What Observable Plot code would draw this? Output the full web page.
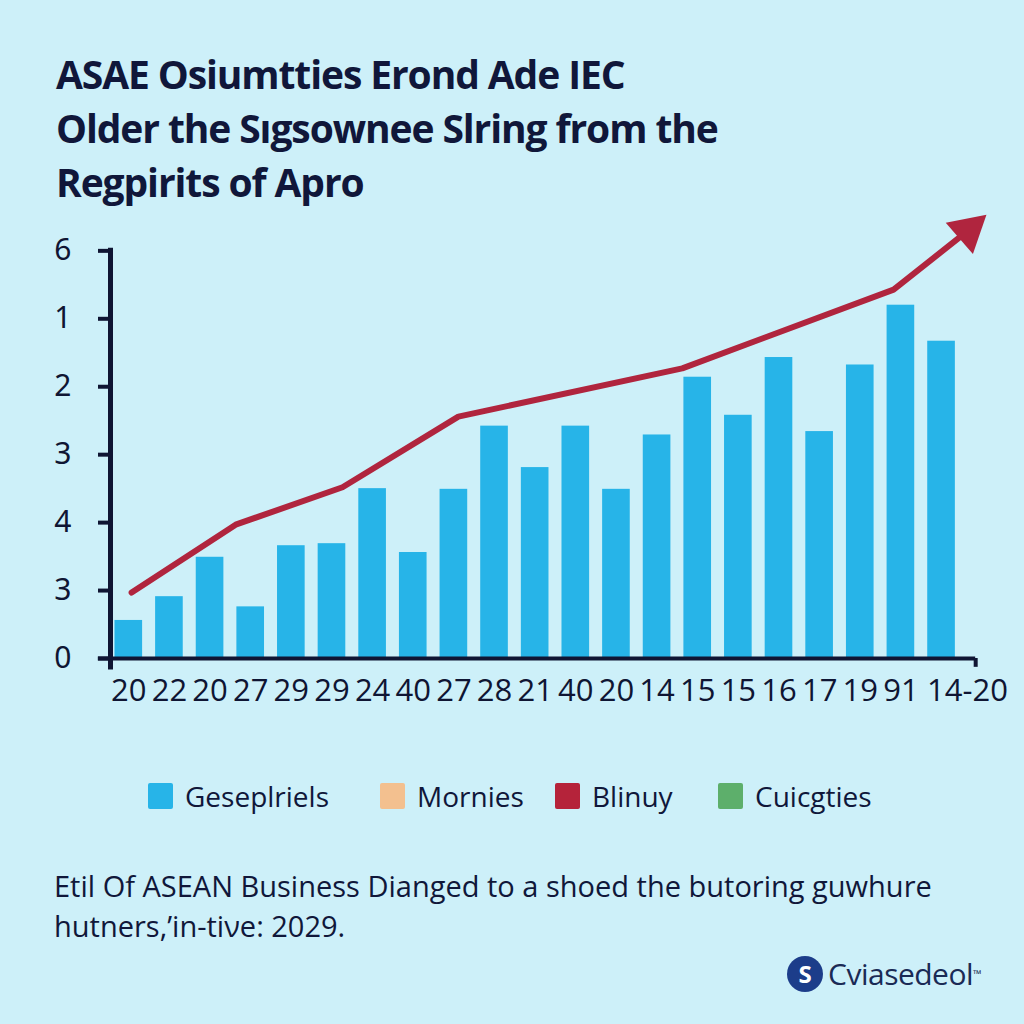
<!DOCTYPE html>
<html>
<head>
<meta charset="utf-8">
<script src="https://cdn.jsdelivr.net/npm/d3@7"></script>
<script src="https://cdn.jsdelivr.net/npm/@observablehq/plot@0.6"></script>
<style>
  html, body { margin: 0; padding: 0; }
  body { width: 1024px; height: 1024px; background: #cdf0f9; position: relative; overflow: hidden; font-family: "Open Sans", "Noto Sans", sans-serif; color: #10173a; }
  #title { position: absolute; left: 56px; top: 47px; font-size: 39px; line-height: 54px; font-weight: 700; letter-spacing: -1.1px; white-space: nowrap; }
  #chart { position: absolute; left: 0; top: 190px; }
  #legend { position: absolute; left: 0; top: 779px; width: 1024px; height: 34px; font-size: 28px; }
  .item { position: absolute; top: 0; display: flex; align-items: center; height: 34px; }
  .item:nth-child(1) { left: 148px; }
  .item:nth-child(2) { left: 380px; }
  .item:nth-child(3) { left: 555px; }
  .item:nth-child(4) { left: 718px; }
  .sw { width: 25px; height: 26px; border-radius: 2px; margin-right: 12px; }
  #caption { position: absolute; left: 54px; top: 866px; font-size: 29px; line-height: 40px; white-space: nowrap; }
  #logo { position: absolute; left: 787px; top: 953px; display: flex; align-items: center; font-size: 30px; letter-spacing: -0.5px; color: #1a2a55; }
  #logo .mark { width: 36px; height: 36px; border-radius: 50%; background: #1c3d8a; color: #fff; font-weight: 700; font-size: 24px; display: flex; align-items: center; justify-content: center; margin-right: 5px; letter-spacing: 0; }
  #logo sup { font-size: 11px; vertical-align: top; position: relative; top: 0px; }
</style>
</head>
<body>
<div id="title"></div>
<div id="chart"></div>
<div id="legend"></div>
<div id="caption"></div>
<div id="logo"><div class="mark">S</div><span>Cviasedeol</span><sup>™</sup></div>
<script>
// ---- data ----
const titleLines = ["ASAE Osiumtties Erond Ade IEC", "Older the Sıgsownee Slring from the", "Regpirits of Apro"];
const xLabels = ["20","22","20","27","29","29","24","40","27","28","21","40","20","14","15","15","16","17","19","91","14-20"];
const barValues = [0.56, 0.91, 1.49, 0.76, 1.66, 1.69, 2.50, 1.56, 2.49, 3.42, 2.81, 3.42, 2.49, 3.29, 4.14, 3.58, 4.43, 3.34, 4.32, 5.20, 4.67];
const yTickLabels = ["0","3","4","3","2","1","6"]; // label shown at tick value 0..6
const trendX = [0.07, 2.63, 5.26, 8.11, 13.62, 18.82, 20.66];
const trendY = [0.97, 1.97, 2.52, 3.56, 4.27, 5.43, 6.30];
const legendNames = ["Geseplriels", "Mornies", "Blinuy", "Cuicgties"];
const legendColors = ["#27b4e8", "#f3c08f", "#b5233a", "#5daf6b"];
const captionLines = ["Etil Of ASEAN Business Dianged to a shoed the butoring guwhure", "hutners,’in-tiνe: 2029."];

// ---- styles ----
const ink = "#0f1533";
const barColor = "#27b4e8";
const lineColor = "#b0253e";
const xMin = -0.45, xMax = 21.5, yMax = 6.8;
const xAxisStart = -0.75, xAxisEnd = 20.84;
const yAxisBottom = -0.17, yAxisTop = 6.04;
const xFont = "Liberation Sans Narrow, Arial Narrow, Open Sans, sans-serif";

document.getElementById("title").innerHTML = titleLines.map(t => `<div>${t}</div>`).join("");
document.getElementById("caption").innerHTML = captionLines.map(t => `<div>${t}</div>`).join("");
document.getElementById("legend").innerHTML = legendNames.map((n, i) =>
  `<div class="item"><div class="sw" style="background:${legendColors[i]}"></div><span>${n}</span></div>`).join("");

const bars = barValues.map((v, i) => ({i, v}));
const trend = trendX.map((x, k) => ({x, y: trendY[k]}));
const half = 0.34;
const lastTick = xLabels.length - 1;

const chart = Plot.plot({
  width: 1024,
  height: 530,
  marginLeft: 110,
  marginRight: 22,
  marginTop: 6,
  marginBottom: 62,
  style: {background: "transparent", overflow: "visible"},
  x: {domain: [xMin, xMax], axis: null, label: null},
  y: {domain: [0, yMax], axis: null, label: null},
  marks: [
    Plot.rectY(bars, {x1: d => d.i - half, x2: d => d.i + half, y1: 0, y2: "v", fill: barColor}),
    Plot.ruleY([0], {x1: xAxisStart, x2: xAxisEnd, stroke: ink, strokeWidth: 4}),
    Plot.ruleX([xAxisEnd], {y1: -0.13, y2: 0, stroke: ink, strokeWidth: 4}),
    Plot.ruleX([xMin], {y1: yAxisBottom, y2: yAxisTop, stroke: ink, strokeWidth: 5}),
    Plot.axisY({ticks: d3.range(0, 7), tickSize: 12, tickPadding: 27, strokeWidth: 4, color: ink, label: null,
      tickFormat: d => yTickLabels[d], fontSize: 30, fontFamily: "Noto Sans, Open Sans, sans-serif"}),
    Plot.axisX({ticks: d3.range(0, lastTick), tickSize: 0, tickPadding: 20, color: ink, label: null,
      tickFormat: d => xLabels[d], fontSize: 31, fontFamily: xFont}),
    Plot.axisX({ticks: [lastTick], tickSize: 0, tickPadding: 20, dx: 26, color: ink, label: null,
      tickFormat: d => xLabels[d], fontSize: 31, fontFamily: xFont}),
    Plot.line(trend, {x: "x", y: "y", stroke: lineColor, strokeWidth: 6}),
    Plot.dot(trend.slice(-1), {x: "x", y: "y", symbol: "triangle", r: 15.4, rotate: 49, fill: lineColor})
  ]
});
document.getElementById("chart").appendChild(chart);
</script>
</body>
</html>
